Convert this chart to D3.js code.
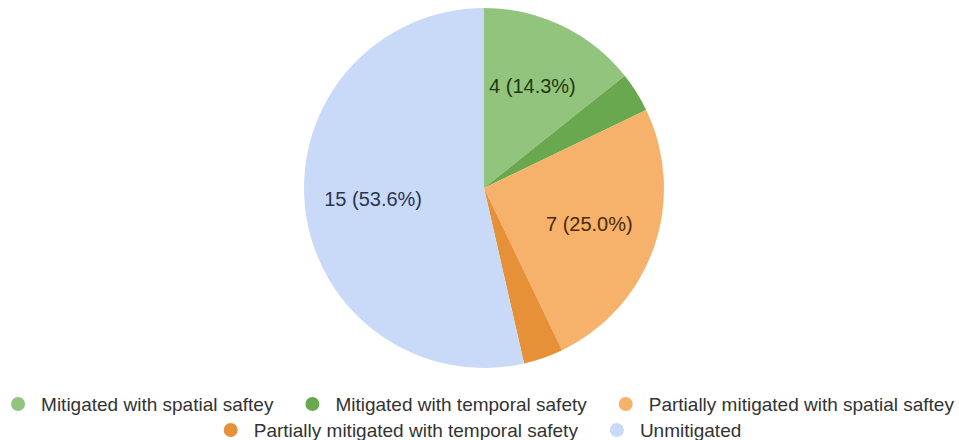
<!DOCTYPE html>
<html>
<head>
<meta charset="utf-8">
<script src="https://cdn.jsdelivr.net/npm/d3@7"></script>
<style>
  body { margin: 0; background: #fff; }
  svg { display: block; font-family: "Liberation Sans", Arial, sans-serif; }
</style>
</head>
<body>
<div id="chart"></div>
<script>
// Données du graphique
const categories = [
    "Mitigated with spatial saftey",
    "Mitigated with temporal safety",
    "Partially mitigated with spatial saftey",
    "Partially mitigated with temporal safety",
    "Unmitigated"
];
const values = [4, 1, 7, 1, 15];
const colors = ["#93c47d", "#6aa84f", "#f6b26b", "#e69138", "#c9daf8"];
const labelColors = ["#1e3a12", "#1e3a12", "#4a2a08", "#4a2a08", "#2a3550"];

const width = 959;
const height = 440;

const svg = d3.select("#chart")
    .append("svg")
    .attr("width", width)
    .attr("height", height);

const cx = 484, cy = 188, radius = 180;
const total = d3.sum(values);

const pie = d3.pie().sort(null).value(d => d.value);
const arc = d3.arc().innerRadius(0).outerRadius(radius);
const labelArc = d3.arc().innerRadius(radius * 0.62).outerRadius(radius * 0.62);

const data = categories.map((c, i) => ({ name: c, value: values[i], i: i }));

const g = svg.append("g").attr("transform", `translate(${cx},${cy})`);

const slices = pie(data);
g.selectAll("path")
    .data(slices)
    .enter()
    .append("path")
    .attr("d", arc)
    .attr("fill", d => colors[d.data.i]);

// Étiquettes seulement pour les grandes parts
g.selectAll("text")
    .data(slices.filter(d => d.data.value / total > 0.05))
    .enter()
    .append("text")
    .attr("transform", d => `translate(${labelArc.centroid(d)})`)
    .attr("text-anchor", "middle")
    .attr("dy", "0.3em")
    .attr("font-size", 20)
    .attr("fill", d => labelColors[d.data.i])
    .text(d => `${d.data.value} (${(d.data.value / total * 100).toFixed(1)}%)`);

// Légende sur deux lignes, centrée
const rows = [[0, 1, 2], [3, 4]];
const rowY = [404, 430];
const legendFont = 19;
const dotR = 7, textStart = 30, gap = 32;

rows.forEach(function(row, r) {
    const lg = svg.append("g");
    let x = 0;
    row.forEach(function(i) {
        const item = lg.append("g").attr("transform", `translate(${x},0)`);
        item.append("circle")
            .attr("cx", dotR)
            .attr("cy", 0)
            .attr("r", dotR)
            .attr("fill", colors[i]);
        const t = item.append("text")
            .attr("x", textStart)
            .attr("dy", "0.35em")
            .attr("font-size", legendFont)
            .attr("fill", "#333")
            .text(categories[i]);
        x += textStart + t.node().getComputedTextLength() + gap;
    });
    const w = x - gap;
    lg.attr("transform", `translate(${(width - w) / 2 + 3},${rowY[r]})`);
});
</script>
</body>
</html>
